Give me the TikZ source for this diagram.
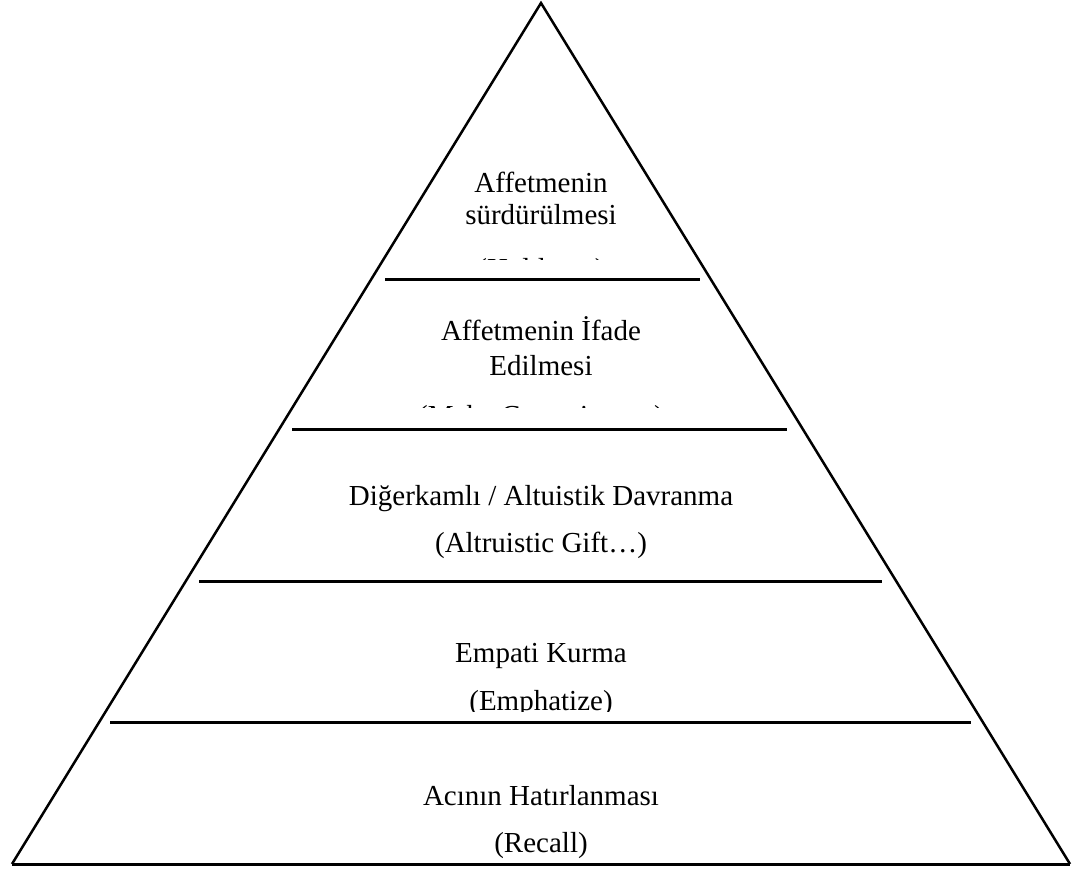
\documentclass[tikz,border=0pt]{standalone}
\usepackage{fontspec}
\setmainfont{Liberation Serif}
\begin{document}
\begin{tikzpicture}[x=1pt,y=-1pt,
  edge/.style={line width=2.5pt, line join=miter},
  divider/.style={line width=3pt},
  lbl/.style={anchor=base, inner sep=0pt, font=\fontsize{29}{34}\selectfont}]
\useasboundingbox (0,0) rectangle (1077,869);
% triangle
\coordinate (apex) at (541,3);
\coordinate (bl) at (12,864);
\coordinate (br) at (1070,864);
\draw[edge] (bl) -- (apex) -- (br);
\draw[divider] (bl) -- (br);
% dividers
\coordinate (d1l) at (385,280); \coordinate (d1r) at (700,280);
\coordinate (d2l) at (292,429); \coordinate (d2r) at (787,429);
\coordinate (d3l) at (199,581); \coordinate (d3r) at (882,581);
\coordinate (d4l) at (110,722); \coordinate (d4r) at (971,722);
\draw[divider] (d1l) -- (d1r);
\draw[divider] (d2l) -- (d2r);
\draw[divider] (d3l) -- (d3r);
\draw[divider] (d4l) -- (d4r);
% level 1 (top)
\node[lbl] (t1a) at (541,193) {Affetmenin};
\node[lbl] (t1b) at (541,225) {sürdürülmesi};
\begin{scope}
  \clip (0,0) rectangle (1077,260);
  \node[lbl] (t1c) at (541,279) {(Holdness)};
\end{scope}
% level 2
\node[lbl] (t2a) at (541,340) {Affetmenin İfade};
\node[lbl] (t2b) at (541,375) {Edilmesi};
\begin{scope}
  \clip (0,0) rectangle (1077,407);
  \node[lbl] (t2c) at (541,425) {(Make Commitment)};
\end{scope}
% level 3
\node[lbl] (t3a) at (541,505) {Diğerkamlı / Altuistik Davranma};
\node[lbl] (t3b) at (541,552) {(Altruistic Gift…)};
% level 4
\node[lbl] (t4a) at (541,662) {Empati Kurma};
\begin{scope}
  \clip (0,0) rectangle (1077,711);
  \node[lbl] (t4b) at (541,710) {(Emphatize)};
\end{scope}
% level 5
\node[lbl] (t5a) at (541,805) {Acının Hatırlanması};
\node[lbl] (t5b) at (541,852) {(Recall)};
\end{tikzpicture}
\end{document}
